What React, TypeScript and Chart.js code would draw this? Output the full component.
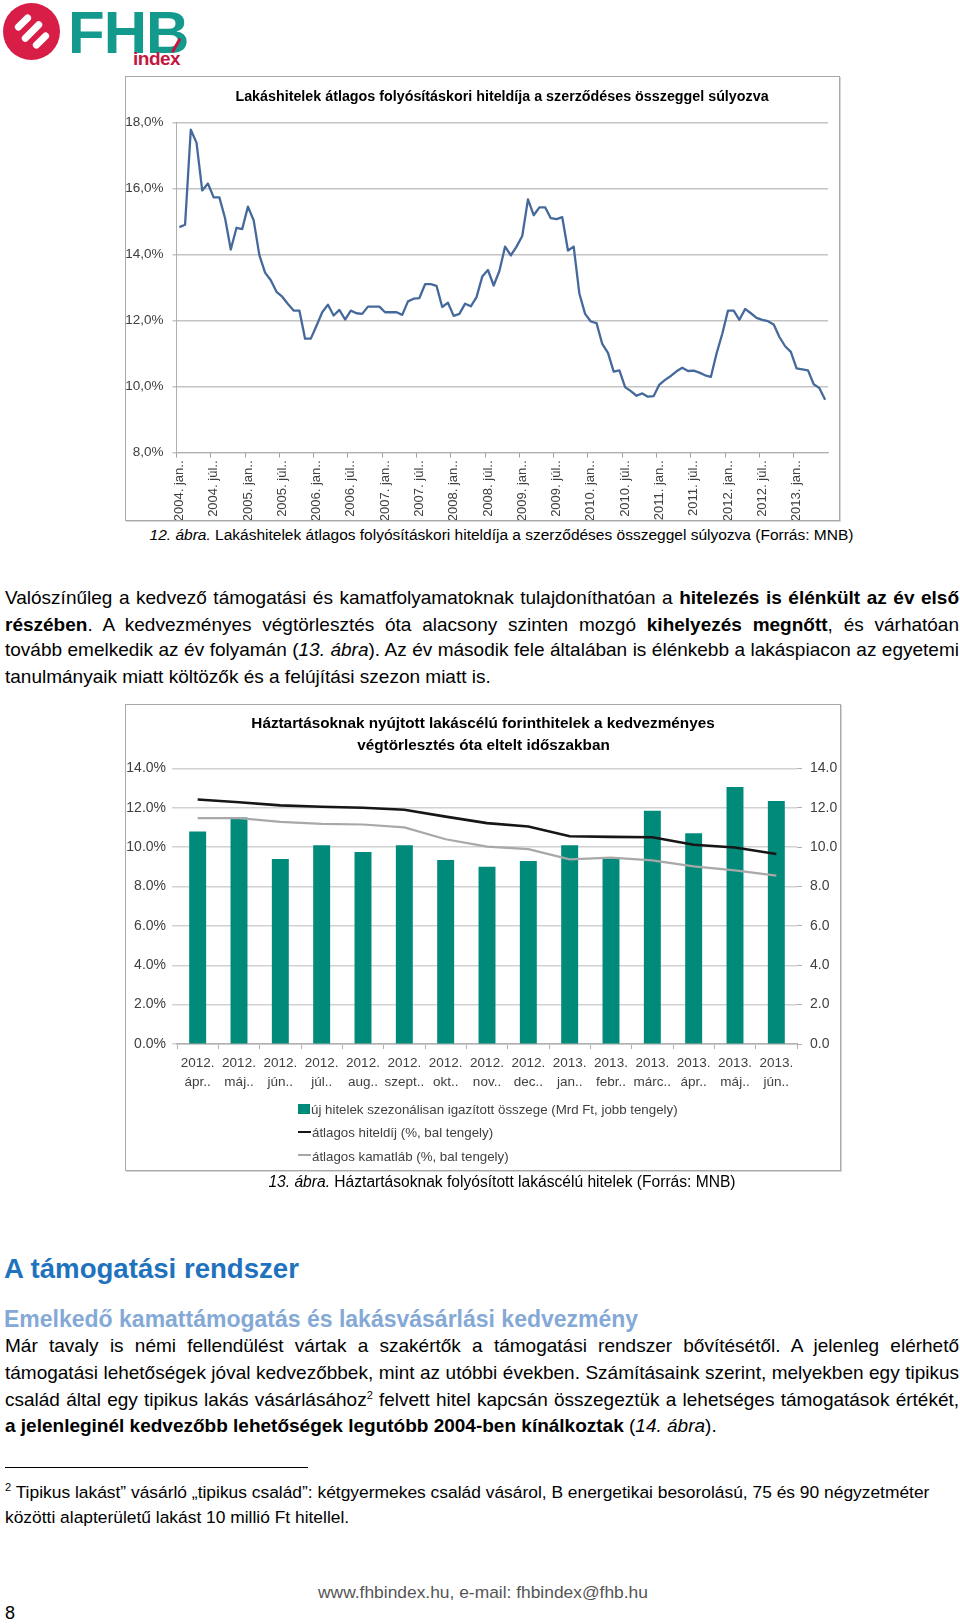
import React, { useEffect, useRef } from "react";
import Chart from "chart.js/auto";

// ---------- Chart 1 data (monthly, 2004. jan. – 2013. jún.) ----------
const YEARS_1 = [2004, 2005, 2006, 2007, 2008, 2009, 2010, 2011, 2012, 2013];
const MONTHS_HU = ["jan.", "febr.", "márc.", "ápr.", "máj.", "jún.", "júl.", "aug.", "szept.", "okt.", "nov.", "dec."];
const HITELDIJ_HAVI = [
  14.83, 14.9, 17.78, 17.39, 15.94, 16.15, 15.73, 15.73, 15.1, 14.15, 14.81, 14.77,
  15.45, 15.04, 13.98, 13.45, 13.22, 12.87, 12.72, 12.5, 12.3, 12.3, 11.45, 11.45,
  11.84, 12.25, 12.48, 12.15, 12.32, 12.03, 12.3, 12.22, 12.2, 12.42, 12.42, 12.42,
  12.25, 12.25, 12.25, 12.17, 12.58, 12.66, 12.68, 13.1, 13.1, 13.05, 12.41, 12.54,
  12.14, 12.2, 12.51, 12.43, 12.71, 13.33, 13.53, 13.06, 13.5, 14.24, 13.97, 14.24,
  14.56, 15.67, 15.19, 15.43, 15.43, 15.1, 15.07, 15.13, 14.12, 14.24, 12.81, 12.2,
  11.97, 11.92, 11.29, 11.02, 10.45, 10.49, 9.98, 9.86, 9.72, 9.79, 9.69, 9.71,
  10.06, 10.2, 10.32, 10.46, 10.57, 10.47, 10.48, 10.42, 10.34, 10.29, 11.0, 11.6,
  12.3, 12.3, 12.02, 12.35, 12.22, 12.08, 12.02, 11.98, 11.88, 11.5, 11.22, 11.05,
  10.55, 10.52, 10.49, 10.07, 9.95, 9.6,
];
const Y1_MIN = 8;
const Y1_MAX = 18;
const Y1_STEP = 2;
const LABEL_EVERY_1 = 6;

// ---------- Chart 2 data ----------
const CAT_2 = [
  ["2012.", "ápr.."], ["2012.", "máj.."], ["2012.", "jún.."], ["2012.", "júl.."], ["2012.", "aug.."],
  ["2012.", "szept.."], ["2012.", "okt.."], ["2012.", "nov.."], ["2012.", "dec.."], ["2013.", "jan.."],
  ["2013.", "febr.."], ["2013.", "márc.."], ["2013.", "ápr.."], ["2013.", "máj.."], ["2013.", "jún.."],
];
const UJ_HITELEK = [10.8, 11.5, 9.4, 10.1, 9.75, 10.1, 9.35, 9.0, 9.3, 10.1, 9.5, 11.85, 10.7, 13.05, 12.35];
const ATLAGOS_HITELDIJ = [12.42, 12.28, 12.12, 12.05, 12.0, 11.9, 11.55, 11.22, 11.05, 10.55, 10.52, 10.5, 10.12, 9.98, 9.65];
const ATLAGOS_KAMATLAB = [11.47, 11.47, 11.28, 11.18, 11.15, 11.0, 10.4, 10.03, 9.9, 9.38, 9.47, 9.33, 9.02, 8.82, 8.55];
const Y2_MIN = 0;
const Y2_MAX = 14;
const Y2_STEP = 2;
const LEGEND_2 = [
  "új hitelek szezonálisan igazított összege (Mrd Ft, jobb tengely)",
  "átlagos hiteldíj (%, bal tengely)",
  "átlagos kamatláb (%, bal tengely)",
];

const FONT_N = '"Liberation Sans Narrow", "Arial Narrow", "Liberation Sans", Arial, sans-serif';
const FONT_W = '"Liberation Sans", Arial, sans-serif';

const CATS_1: string[] = [];
for (const y of YEARS_1) {
  for (const m of MONTHS_HU) {
    if (CATS_1.length < HITELDIJ_HAVI.length) CATS_1.push(`${y}. ${m}.`);
  }
}

function Chart1() {
  const ref = useRef<HTMLCanvasElement>(null);
  useEffect(() => {
    const chart = new Chart(ref.current as HTMLCanvasElement, {
      type: "line",
      data: {
        labels: CATS_1,
        datasets: [
          {
            data: HITELDIJ_HAVI,
            borderColor: "#46699b",
            borderWidth: 2.3,
            pointRadius: 0,
            tension: 0,
            borderJoinStyle: "round",
          },
        ],
      },
      options: {
        animation: false,
        responsive: false,
        maintainAspectRatio: false,
        layout: { padding: { top: 45.5, right: 11, left: 0, bottom: 0 } },
        plugins: { legend: { display: false }, tooltip: { enabled: false }, title: { display: false } },
        scales: {
          x: {
            type: "category",
            offset: true,
            grid: {
              display: true,
              offset: true,
              drawOnChartArea: false,
              drawTicks: true,
              tickLength: 5,
              lineWidth: 1,
              color: (ctx: any) =>
                typeof ctx.index === "number" && ctx.index % LABEL_EVERY_1 === 0 ? "#a0a0a0" : "rgba(0,0,0,0)",
            },
            border: { display: true, color: "#b0b0b0", width: 1 },
            ticks: {
              autoSkip: false,
              maxRotation: 90,
              minRotation: 90,
              padding: 3,
              color: "#404040",
              font: { family: FONT_N, size: 13 },
              callback: (_v: any, i: number) => (i % LABEL_EVERY_1 === 0 ? CATS_1[i] : ""),
            },
            afterFit: (s: any) => {
              s.height = 67.5;
              s.paddingLeft = 0;
              s.paddingRight = 0;
            },
          },
          y: {
            min: Y1_MIN,
            max: Y1_MAX,
            ticks: {
              stepSize: Y1_STEP,
              padding: 9,
              color: "#404040",
              font: { family: FONT_N, size: 13.5 },
              callback: (v: any) => Number(v).toFixed(1).replace(".", ",") + "%",
            },
            grid: { color: "#c4c4c4", lineWidth: 1.5, drawTicks: true, tickLength: 4 },
            border: { display: true, color: "#b0b0b0", width: 1 },
            afterFit: (s: any) => {
              s.width = 50.5;
            },
          },
        },
      } as any,
    });
    return () => chart.destroy();
  }, []);
  return (
    <canvas ref={ref} width={713} height={443} style={{ position: "absolute", left: 0, top: 0, width: 713, height: 443 }} />
  );
}

function Chart2() {
  const ref = useRef<HTMLCanvasElement>(null);
  useEffect(() => {
    const chart = new Chart(ref.current as HTMLCanvasElement, {
      type: "bar",
      data: {
        labels: CAT_2,
        datasets: [
          {
            type: "line",
            label: LEGEND_2[1],
            data: ATLAGOS_HITELDIJ,
            borderColor: "#161616",
            borderWidth: 2.6,
            pointRadius: 0,
            tension: 0,
            yAxisID: "y",
            order: 0,
          },
          {
            type: "line",
            label: LEGEND_2[2],
            data: ATLAGOS_KAMATLAB,
            borderColor: "#a8a8a8",
            borderWidth: 2.2,
            pointRadius: 0,
            tension: 0,
            yAxisID: "y",
            order: 1,
          },
          {
            type: "bar",
            label: LEGEND_2[0],
            data: UJ_HITELEK,
            backgroundColor: "#008a7a",
            barPercentage: 0.41,
            categoryPercentage: 1,
            yAxisID: "y1",
            order: 2,
          },
        ],
      },
      options: {
        animation: false,
        responsive: false,
        maintainAspectRatio: false,
        layout: { padding: { top: 63.4, right: 0, left: 0, bottom: 76 } },
        plugins: { legend: { display: false }, tooltip: { enabled: false }, title: { display: false } },
        scales: {
          x: {
            offset: true,
            grid: {
              display: true,
              offset: true,
              drawOnChartArea: false,
              drawTicks: true,
              tickLength: 5,
              color: "#b0b0b0",
            },
            border: { display: true, color: "#b0b0b0", width: 1.5 },
            ticks: {
              autoSkip: false,
              maxRotation: 0,
              minRotation: 0,
              padding: 4,
              color: "#404040",
              font: { family: FONT_N, size: 13.5, lineHeight: 1.45 },
            },
            afterFit: (s: any) => {
              s.height = 50;
            },
          },
          y: {
            position: "left",
            min: Y2_MIN,
            max: Y2_MAX,
            ticks: {
              stepSize: Y2_STEP,
              padding: 6,
              color: "#404040",
              font: { family: FONT_N, size: 14 },
              callback: (v: any) => Number(v).toFixed(1) + "%",
            },
            grid: { color: "#d2d2d2", lineWidth: 1.5, drawTicks: true, tickLength: 5 },
            border: { display: false },
            afterFit: (s: any) => {
              s.width = 51;
            },
          },
          y1: {
            position: "right",
            min: Y2_MIN,
            max: Y2_MAX,
            ticks: {
              stepSize: Y2_STEP,
              padding: 8,
              color: "#404040",
              font: { family: FONT_N, size: 14 },
              callback: (v: any) => Number(v).toFixed(1),
            },
            grid: { drawOnChartArea: false, color: "#b0b0b0", drawTicks: true, tickLength: 5 },
            border: { display: false },
            afterFit: (s: any) => {
              s.width = 43;
            },
          },
        },
      } as any,
    });
    return () => chart.destroy();
  }, []);
  return (
    <canvas ref={ref} width={714} height={465} style={{ position: "absolute", left: 0, top: 0, width: 714, height: 465 }} />
  );
}

const abs = (left: number, top: number, extra: React.CSSProperties = {}): React.CSSProperties => ({
  position: "absolute",
  left,
  top,
  ...extra,
});

function JLine(props: { top: number; last?: boolean; children: React.ReactNode }) {
  return (
    <div
      style={{
        position: "absolute",
        left: 5,
        top: props.top,
        width: 954,
        height: 26,
        lineHeight: "26px",
        fontSize: 19,
        fontFamily: FONT_N,
        color: "#000",
        textAlign: "justify",
        textAlignLast: props.last ? "left" : "justify",
        overflow: "visible",
      }}
    >
      {props.children}
    </div>
  );
}

function Centered(props: { cx: number; top: number; size: number; children: React.ReactNode; color?: string; bold?: boolean }) {
  return (
    <div
      style={{
        position: "absolute",
        left: props.cx,
        top: props.top,
        transform: "translateX(-50%)",
        whiteSpace: "nowrap",
        fontSize: props.size,
        lineHeight: "22px",
        fontFamily: FONT_N,
        fontWeight: props.bold ? "bold" : "normal",
        color: props.color || "#000",
      }}
    >
      {props.children}
    </div>
  );
}

function Logo() {
  const stripe = (dx: number, len: number): React.CSSProperties => ({
    position: "absolute",
    left: 28.5 + dx - len / 2,
    top: 28.5 + dx - 3.5,
    width: len,
    height: 7,
    borderRadius: 3.5,
    background: "#fff",
    transform: "rotate(-45deg)",
  });
  return (
    <>
      <div style={abs(3, 3, { width: 57, height: 57, borderRadius: "50%", background: "#d81e46" })}>
        <div style={stripe(-9, 20)} />
        <div style={stripe(0, 26)} />
        <div style={stripe(9, 20)} />
      </div>
      <div
        style={abs(68, 3, {
          fontFamily: FONT_W,
          fontWeight: 900,
          fontSize: 60,
          lineHeight: "60px",
          color: "#139a8c",
          letterSpacing: -1,
        })}
      >
        FHB
      </div>
      <div
        style={abs(133, 49, {
          fontFamily: FONT_W,
          fontWeight: "bold",
          fontSize: 19,
          lineHeight: "19px",
          color: "#c4173f",
          letterSpacing: -0.5,
        })}
      >
        index
      </div>
      <div
        style={abs(168, 44, {
          width: 16,
          height: 2.5,
          background: "#c4173f",
          transform: "rotate(-60deg)",
          borderRadius: 1,
        })}
      />
    </>
  );
}

export default function App() {
  return (
    <div
      style={{
        position: "absolute",
        left: 0,
        top: 0,
        width: 960,
        height: 1624,
        overflow: "hidden",
        background: "#fff",
        fontFamily: FONT_N,
      }}
    >
      <Logo />

      {/* Chart 1 */}
      <div
        style={abs(125, 76, {
          width: 713,
          height: 443,
          border: "1px solid #a9a9a9",
          boxShadow: "1px 1px 0 #d6d6d6",
        })}
      >
        <Chart1 />
      </div>
      <Centered cx={502} top={84.5} size={14.3} bold>
        Lakáshitelek átlagos folyósításkori hiteldíja a szerződéses összeggel súlyozva
      </Centered>
      <Centered cx={501.5} top={523.5} size={15.5}>
        <i>12. ábra.</i> Lakáshitelek átlagos folyósításkori hiteldíja a szerződéses összeggel súlyozva (Forrás: MNB)
      </Centered>

      {/* Paragraph 1 */}
      <JLine top={584.5}>
        Valószínűleg a kedvező támogatási és kamatfolyamatoknak tulajdoníthatóan a <b>hitelezés is élénkült az év első</b>
      </JLine>
      <JLine top={611.5}>
        <b>részében</b>. A kedvezményes végtörlesztés óta alacsony szinten mozgó <b>kihelyezés megnőtt</b>, és várhatóan
      </JLine>
      <JLine top={637.4}>
        tovább emelkedik az év folyamán (<i>13. ábra</i>). Az év második fele általában is élénkebb a lakáspiacon az egyetemi
      </JLine>
      <JLine top={664.3} last>
        tanulmányaik miatt költözők és a felújítási szezon miatt is.
      </JLine>

      {/* Chart 2 */}
      <div
        style={abs(125, 704, {
          width: 714,
          height: 465,
          border: "1px solid #a9a9a9",
          boxShadow: "1px 1px 0 #d6d6d6",
        })}
      >
        <Chart2 />
        {LEGEND_2.map((t, i) => (
          <div key={i} style={abs(172, 394 + i * 23.3, { height: 20, lineHeight: "20px", whiteSpace: "nowrap" })}>
            {i === 0 ? (
              <span style={{ display: "inline-block", width: 12, height: 10, background: "#008a7a", verticalAlign: "middle", marginTop: -2 }} />
            ) : (
              <span
                style={{
                  display: "inline-block",
                  width: 13,
                  height: i === 1 ? 2.6 : 2.2,
                  background: i === 1 ? "#161616" : "#a8a8a8",
                  verticalAlign: "middle",
                  marginTop: -2,
                }}
              />
            )}
            <span style={{ fontFamily: FONT_N, fontSize: 13.3, color: "#404040", marginLeft: 1 }}>{t}</span>
          </div>
        ))}
      </div>
      <Centered cx={483} top={711.8} size={15.3} bold>
        Háztartásoknak nyújtott lakáscélú forinthitelek a kedvezményes
      </Centered>
      <Centered cx={483.5} top={733.6} size={15.3} bold>
        végtörlesztés óta eltelt időszakban
      </Centered>
      <Centered cx={502} top={1170.6} size={15.6}>
        <i>13. ábra.</i> Háztartásoknak folyósított lakáscélú hitelek (Forrás: MNB)
      </Centered>

      {/* Headings */}
      <div
        style={abs(4, 1252.6, {
          fontFamily: FONT_N,
          fontWeight: "bold",
          fontSize: 27.6,
          lineHeight: "32px",
          color: "#1f72bd",
          whiteSpace: "nowrap",
        })}
      >
        A támogatási rendszer
      </div>
      <div
        style={abs(4, 1306.4, {
          fontFamily: FONT_N,
          fontWeight: "bold",
          fontSize: 23,
          lineHeight: "26px",
          color: "#85a9d6",
          whiteSpace: "nowrap",
        })}
      >
        Emelkedő kamattámogatás és lakásvásárlási kedvezmény
      </div>

      {/* Paragraph 2 */}
      <JLine top={1333.3}>
        Már tavaly is némi fellendülést vártak a szakértők a támogatási rendszer bővítésétől. A jelenleg elérhető
      </JLine>
      <JLine top={1360.3}>
        támogatási lehetőségek jóval kedvezőbbek, mint az utóbbi években. Számításaink szerint, melyekben egy tipikus
      </JLine>
      <JLine top={1387.1}>
        család által egy tipikus lakás vásárlásához<sup style={{ fontSize: 11, lineHeight: 0 }}>2</sup> felvett hitel kapcsán összegeztük a lehetséges támogatások értékét,
      </JLine>
      <JLine top={1413} last>
        <b>a jelenleginél kedvezőbb lehetőségek legutóbb 2004-ben kínálkoztak</b> (<i>14. ábra</i>).
      </JLine>

      {/* Footnote */}
      <div style={abs(5, 1467, { width: 303, height: 1, background: "#000" })} />
      <div style={abs(5, 1480.3, { fontSize: 17.4, lineHeight: "24px", whiteSpace: "nowrap", fontFamily: FONT_N })}>
        <sup style={{ fontSize: 11, lineHeight: 0 }}>2</sup> Tipikus lakást” vásárló „tipikus család”: kétgyermekes család vásárol, B energetikai besorolású, 75 és 90 négyzetméter
      </div>
      <div style={abs(5, 1505.2, { fontSize: 17.4, lineHeight: "24px", whiteSpace: "nowrap", fontFamily: FONT_N })}>
        közötti alapterületű lakást 10 millió Ft hitellel.
      </div>

      {/* Footer */}
      <Centered cx={483} top={1580.7} size={17.4} color="#555">
        www.fhbindex.hu, e-mail: fhbindex@fhb.hu
      </Centered>
      <div style={abs(5, 1603, { fontSize: 18, lineHeight: "20px", fontFamily: FONT_N })}>8</div>
    </div>
  );
}
